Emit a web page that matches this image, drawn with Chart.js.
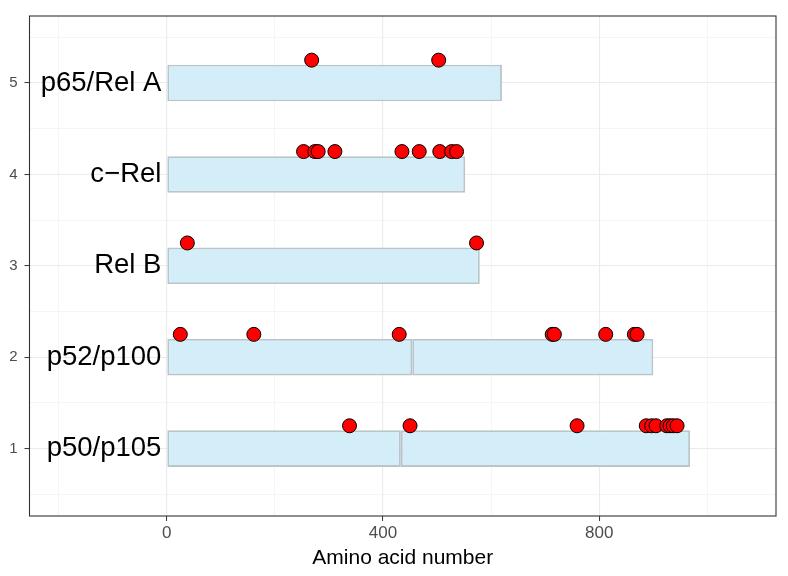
<!DOCTYPE html>
<html>
<head>
<meta charset="utf-8">
<script src="https://cdn.jsdelivr.net/npm/chart.js@4/dist/chart.umd.min.js"></script>
<style>
  html, body { margin: 0; padding: 0; background: #fff; }
  #wrap { width: 788px; height: 576px; }
</style>
</head>
<body>
<div id="wrap"><canvas id="chart"></canvas></div>
<script>
// proteins, bottom to top
var proteins = ['p50/p105', 'p52/p100', 'Rel B', 'c\u2212Rel', 'p65/Rel A'];
var rows = [1, 2, 3, 4, 5];

// domain segments (amino acid start / end), one entry per segment
var segRow   = [1, 1, 2, 2, 3, 4, 5];
var segStart = [0, 433, 0, 454, 0, 0, 0];
var segEnd   = [433, 968, 454, 900, 579, 552, 620];

// marked residues per protein
var p50Sites  = [338, 450, 759, 887, 897, 905, 925, 931, 937, 944];
var p52Sites  = [25, 161, 430, 713, 717, 812, 865, 870];
var relBSites = [38, 573];
var cRelSites = [253, 274, 280, 311, 435, 467, 505, 527, 536];
var p65Sites  = [268, 503];

var xTicks = [0, 400, 800];
var xMinor = [-200, 200, 600, 1000];
var yTicks = [1, 2, 3, 4, 5];
var yMinor = [0.5, 1.5, 2.5, 3.5, 4.5, 5.5];

var xMin = -254, xMax = 1127;
var yMin = 0.263, yMax = 5.733;

var FONT = "'Liberation Sans', Arial, sans-serif";

var app = {
    chart: '',
    barData: function(){
        var out = [];
        for (var i = 0; i < segRow.length; i++) {
            out.push({ y: segRow[i], x: [segStart[i], segEnd[i]] });
        }
        return out;
    },
    siteData: function(){
        var out = [];
        var all = [p50Sites, p52Sites, relBSites, cRelSites, p65Sites];
        all.forEach(function(list, i){
            list.forEach(function(v){
                out.push({ x: v, y: rows[i] + 0.25 });
            });
        });
        return out;
    },
    fixTicks: function(list){
        return function(scale){
            scale.ticks = list.map(function(v){ return { value: v }; });
        };
    },
    minorScale: function(pos, min, max, list){
        return {
            type: 'linear', position: pos, min: min, max: max, offset: false,
            afterBuildTicks: app.fixTicks(list),
            afterFit: function(s){ if (pos === 'bottom') s.height = 0; else s.width = 0; },
            ticks: { display: false },
            border: { display: false },
            grid: { color: '#f2f2f2', lineWidth: 0.8, drawTicks: false, offset: false }
        };
    },
    init: function(){
        var labelPlugin = {
            id: 'rowLabels',
            afterDatasetsDraw: function(chart){
                var ctx = chart.ctx;
                var sx = chart.scales.x, sy = chart.scales.y;
                var area = chart.chartArea;
                ctx.save();
                ctx.font = '27.5px ' + FONT;
                ctx.fillStyle = '#000';
                ctx.textAlign = 'right';
                ctx.textBaseline = 'middle';
                proteins.forEach(function(name, i){
                    ctx.fillText(name, sx.getPixelForValue(-10), sy.getPixelForValue(rows[i]));
                });
                // panel border
                ctx.strokeStyle = '#333';
                ctx.lineWidth = 1.1;
                ctx.strokeRect(area.left, area.top, area.right - area.left, area.bottom - area.top);
                ctx.restore();
            }
        };

        app.chart = new Chart(document.getElementById('chart'), {
            type: 'bar',
            data: {
                datasets: [
                    {
                        type: 'scatter',
                        data: app.siteData(),
                        backgroundColor: '#ff0000',
                        borderColor: '#000',
                        borderWidth: 1,
                        pointRadius: 7,
                        xAxisID: 'x',
                        yAxisID: 'y',
                        order: 0
                    },
                    {
                        type: 'bar',
                        indexAxis: 'y',
                        data: app.barData(),
                        backgroundColor: '#d4eef9',
                        borderColor: '#b9c5c9',
                        borderWidth: 1.9,
                        borderSkipped: false,
                        categoryPercentage: 1,
                        barPercentage: 0.4,
                        xAxisID: 'x',
                        yAxisID: 'y',
                        order: 1
                    }
                ]
            },
            options: {
                responsive: true,
                maintainAspectRatio: false,
                animation: false,
                layout: { padding: { left: 0, right: 12, top: 13, bottom: 0 } },
                plugins: { legend: { display: false }, tooltip: { enabled: false } },
                scales: {
                    xMinor: app.minorScale('bottom', xMin, xMax, xMinor),
                    yMinor: app.minorScale('left', yMin, yMax, yMinor),
                    x: {
                        type: 'linear', position: 'bottom', min: xMin, max: xMax, offset: false,
                        afterBuildTicks: app.fixTicks(xTicks),
                        afterFit: function(s){ s.height = 60; },
                        grid: { color: '#ebebeb', lineWidth: 1.1, tickLength: 5, tickColor: '#333', tickWidth: 1, offset: false },
                        border: { display: false },
                        ticks: { color: '#4d4d4d', font: { family: FONT, size: 17 }, padding: 2, maxRotation: 0 },
                        title: {
                            display: true, text: 'Amino acid number', color: '#000',
                            font: { family: FONT, size: 21 }, padding: { top: 0, bottom: 5 }
                        }
                    },
                    y: {
                        type: 'linear', position: 'left', min: yMin, max: yMax, offset: false,
                        afterBuildTicks: app.fixTicks(yTicks),
                        afterFit: function(s){ s.width = 29.5; },
                        grid: { color: '#ebebeb', lineWidth: 1.1, tickLength: 5, tickColor: '#333', tickWidth: 1, offset: false },
                        border: { display: false },
                        ticks: { color: '#4d4d4d', font: { family: FONT, size: 15 }, padding: 7 }
                    }
                }
            },
            plugins: [labelPlugin]
        });
    }
};

app.init();
</script>
</body>
</html>
